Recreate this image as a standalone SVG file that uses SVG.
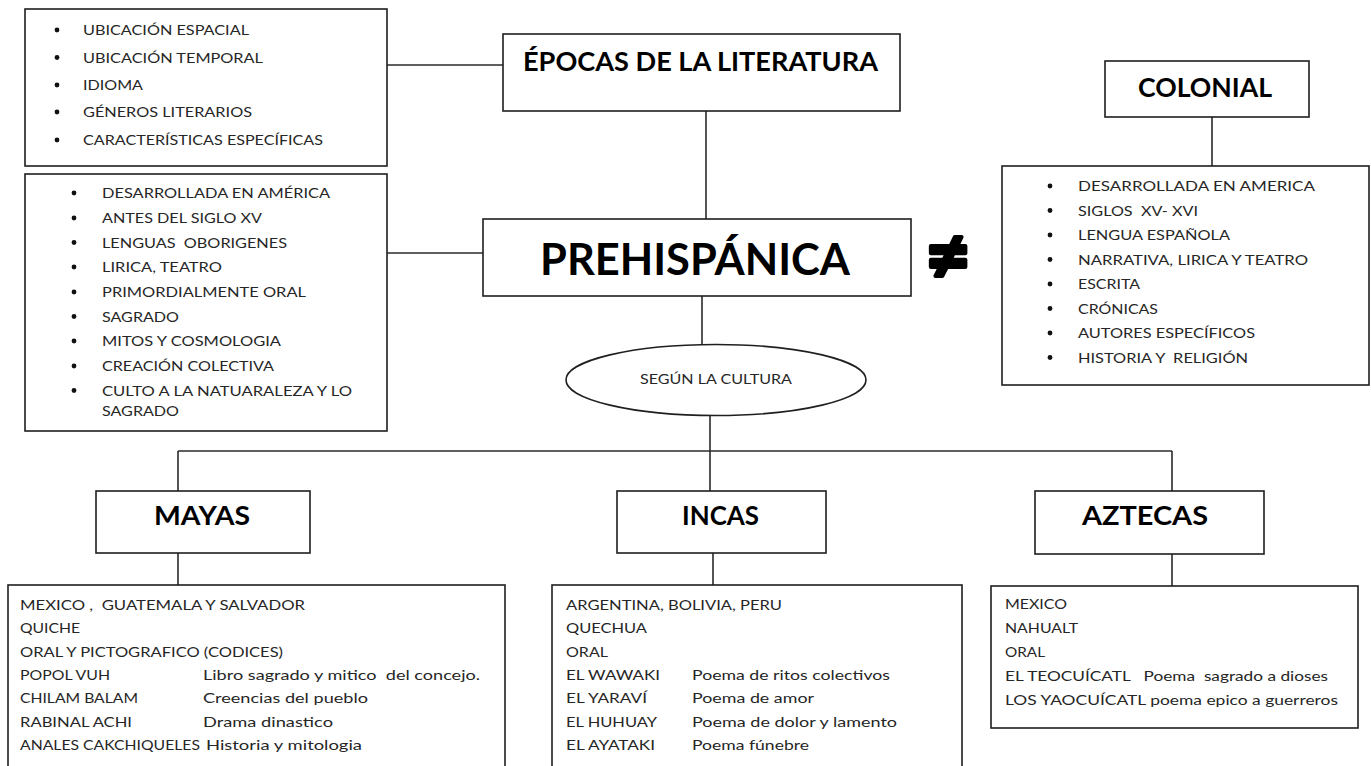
<svg xmlns="http://www.w3.org/2000/svg" width="1371" height="766" viewBox="0 0 1371 766" xml:space="preserve">
<style>
.box{fill:#fff;stroke:#1f1f1f;stroke-width:1.6}
.ln{stroke:#2a2a2a;stroke-width:1.6;fill:none}
.t{font-family:Lato,"Open Sans","Liberation Sans",sans-serif;font-size:13.5px;fill:#262626;white-space:pre}
.h{font-family:Lato,"Open Sans","Liberation Sans",sans-serif;font-weight:bold;fill:#000;white-space:pre}
.b{fill:#111}
</style>
<rect width="1371" height="766" fill="#fff"/>
<g id="connectors">
<line class="ln" x1="387" y1="65" x2="503" y2="65"/>
<line class="ln" x1="706" y1="111" x2="706" y2="219"/>
<line class="ln" x1="387" y1="253" x2="483" y2="253"/>
<line class="ln" x1="702" y1="296" x2="702" y2="344"/>
<line class="ln" x1="710" y1="415" x2="710" y2="491"/>
<line class="ln" x1="178" y1="451" x2="1172" y2="451"/>
<line class="ln" x1="178" y1="451" x2="178" y2="491"/>
<line class="ln" x1="1172" y1="451" x2="1172" y2="491"/>
<line class="ln" x1="178" y1="553" x2="178" y2="585"/>
<line class="ln" x1="713" y1="553" x2="713" y2="585"/>
<line class="ln" x1="1172" y1="554" x2="1172" y2="586"/>
<line class="ln" x1="1212" y1="117" x2="1212" y2="166"/>
</g>
<g id="aspectos">
<rect class="box" x="25" y="9" width="362" height="157"/>
<circle class="b" cx="57" cy="30" r="2.4"/><text class="t" x="83" y="35" textLength="166" lengthAdjust="spacingAndGlyphs">UBICACIÓN ESPACIAL</text>
<circle class="b" cx="57" cy="57.5" r="2.4"/><text class="t" x="83" y="62.5" textLength="180" lengthAdjust="spacingAndGlyphs">UBICACIÓN TEMPORAL</text>
<circle class="b" cx="57" cy="85" r="2.4"/><text class="t" x="83" y="90" textLength="60" lengthAdjust="spacingAndGlyphs">IDIOMA</text>
<circle class="b" cx="57" cy="112" r="2.4"/><text class="t" x="83" y="117" textLength="169" lengthAdjust="spacingAndGlyphs">GÉNEROS LITERARIOS</text>
<circle class="b" cx="57" cy="140" r="2.4"/><text class="t" x="83" y="145" textLength="240" lengthAdjust="spacingAndGlyphs">CARACTERÍSTICAS ESPECÍFICAS</text>
</g>
<g id="epocas">
<rect class="box" x="503" y="34" width="397" height="77"/>
<text class="h" x="523" y="71" font-size="26" textLength="355" lengthAdjust="spacingAndGlyphs">ÉPOCAS DE LA LITERATURA</text>
</g>
<g id="prehispanica-rasgos">
<rect class="box" x="25" y="174" width="362" height="257"/>
<circle class="b" cx="74" cy="193" r="2.4"/><text class="t" x="102" y="198" textLength="228" lengthAdjust="spacingAndGlyphs">DESARROLLADA EN AMÉRICA</text>
<circle class="b" cx="74" cy="218" r="2.4"/><text class="t" x="102" y="223" textLength="160" lengthAdjust="spacingAndGlyphs">ANTES DEL SIGLO XV</text>
<circle class="b" cx="74" cy="242.5" r="2.4"/><text class="t" x="102" y="247.5" textLength="185" lengthAdjust="spacingAndGlyphs">LENGUAS  OBORIGENES</text>
<circle class="b" cx="74" cy="267" r="2.4"/><text class="t" x="102" y="272" textLength="120" lengthAdjust="spacingAndGlyphs">LIRICA, TEATRO</text>
<circle class="b" cx="74" cy="292" r="2.4"/><text class="t" x="102" y="297" textLength="204" lengthAdjust="spacingAndGlyphs">PRIMORDIALMENTE ORAL</text>
<circle class="b" cx="74" cy="316.5" r="2.4"/><text class="t" x="102" y="321.5" textLength="77" lengthAdjust="spacingAndGlyphs">SAGRADO</text>
<circle class="b" cx="74" cy="341" r="2.4"/><text class="t" x="102" y="346" textLength="179" lengthAdjust="spacingAndGlyphs">MITOS Y COSMOLOGIA</text>
<circle class="b" cx="74" cy="366" r="2.4"/><text class="t" x="102" y="371" textLength="172" lengthAdjust="spacingAndGlyphs">CREACIÓN COLECTIVA</text>
<circle class="b" cx="74" cy="390.5" r="2.4"/><text class="t" x="102" y="395.5" textLength="250" lengthAdjust="spacingAndGlyphs">CULTO A LA NATUARALEZA Y LO</text>
<text class="t" x="102" y="416" textLength="77" lengthAdjust="spacingAndGlyphs">SAGRADO</text>
</g>
<g id="prehispanica">
<rect class="box" x="483" y="219" width="428" height="77"/>
<text class="h" x="540" y="275" font-size="44" textLength="310" lengthAdjust="spacingAndGlyphs">PREHISPÁNICA</text>
</g>
<g id="distinto">
<text class="h" x="948" y="283" font-size="78" text-anchor="middle" font-family="'DejaVu Sans',sans-serif" stroke="#000" stroke-width="4" stroke-linejoin="round">≠</text>
</g>
<g id="colonial">
<rect class="box" x="1105" y="61" width="204" height="56"/>
<text class="h" x="1138" y="97" font-size="26" textLength="134" lengthAdjust="spacingAndGlyphs">COLONIAL</text>
</g>
<g id="colonial-rasgos">
<rect class="box" x="1002" y="166" width="367" height="219"/>
<circle class="b" cx="1050" cy="186" r="2.4"/><text class="t" x="1078" y="191" textLength="237" lengthAdjust="spacingAndGlyphs">DESARROLLADA EN AMERICA</text>
<circle class="b" cx="1050" cy="210.5" r="2.4"/><text class="t" x="1078" y="215.5" textLength="120" lengthAdjust="spacingAndGlyphs">SIGLOS  XV- XVI</text>
<circle class="b" cx="1050" cy="235" r="2.4"/><text class="t" x="1078" y="240" textLength="152" lengthAdjust="spacingAndGlyphs">LENGUA ESPAÑOLA</text>
<circle class="b" cx="1050" cy="259.5" r="2.4"/><text class="t" x="1078" y="264.5" textLength="230" lengthAdjust="spacingAndGlyphs">NARRATIVA, LIRICA Y TEATRO</text>
<circle class="b" cx="1050" cy="284" r="2.4"/><text class="t" x="1078" y="289" textLength="62" lengthAdjust="spacingAndGlyphs">ESCRITA</text>
<circle class="b" cx="1050" cy="308.5" r="2.4"/><text class="t" x="1078" y="313.5" textLength="80" lengthAdjust="spacingAndGlyphs">CRÓNICAS</text>
<circle class="b" cx="1050" cy="333" r="2.4"/><text class="t" x="1078" y="338" textLength="177" lengthAdjust="spacingAndGlyphs">AUTORES ESPECÍFICOS</text>
<circle class="b" cx="1050" cy="357.5" r="2.4"/><text class="t" x="1078" y="362.5" textLength="170" lengthAdjust="spacingAndGlyphs">HISTORIA Y  RELIGIÓN</text>
</g>
<g id="segun-cultura">
<ellipse class="box" cx="716" cy="380" rx="150" ry="35.5"/>
<text class="t" x="640" y="384" font-size="12.5" textLength="152" lengthAdjust="spacingAndGlyphs">SEGÚN LA CULTURA</text>
</g>
<g id="mayas">
<rect class="box" x="96" y="491" width="214" height="62"/>
<text class="h" x="154" y="525" font-size="27" textLength="96" lengthAdjust="spacingAndGlyphs">MAYAS</text>
</g>
<g id="incas">
<rect class="box" x="617" y="491" width="209" height="62"/>
<text class="h" x="682" y="525" font-size="27" textLength="77" lengthAdjust="spacingAndGlyphs">INCAS</text>
</g>
<g id="aztecas">
<rect class="box" x="1035" y="491" width="229" height="63"/>
<text class="h" x="1082" y="525" font-size="27" textLength="126" lengthAdjust="spacingAndGlyphs">AZTECAS</text>
</g>
<g id="mayas-detalle">
<rect class="box" x="8" y="585" width="497" height="200"/>
<text class="t" x="20" y="610" textLength="285" lengthAdjust="spacingAndGlyphs">MEXICO ,  GUATEMALA Y SALVADOR</text>
<text class="t" x="20" y="633" textLength="60" lengthAdjust="spacingAndGlyphs">QUICHE</text>
<text class="t" x="20" y="657" textLength="263" lengthAdjust="spacingAndGlyphs">ORAL Y PICTOGRAFICO (CODICES)</text>
<text class="t" x="20" y="680" textLength="90" lengthAdjust="spacingAndGlyphs">POPOL VUH</text>
<text class="t" x="203" y="680" textLength="277" lengthAdjust="spacingAndGlyphs">Libro sagrado y mitico  del concejo.</text>
<text class="t" x="20" y="703" textLength="118" lengthAdjust="spacingAndGlyphs">CHILAM BALAM</text>
<text class="t" x="203" y="703" textLength="165" lengthAdjust="spacingAndGlyphs">Creencias del pueblo</text>
<text class="t" x="20" y="727" textLength="112" lengthAdjust="spacingAndGlyphs">RABINAL ACHI</text>
<text class="t" x="203" y="727" textLength="130" lengthAdjust="spacingAndGlyphs">Drama dinastico</text>
<text class="t" x="20" y="750" textLength="180" lengthAdjust="spacingAndGlyphs">ANALES CAKCHIQUELES</text>
<text class="t" x="206" y="750" textLength="156" lengthAdjust="spacingAndGlyphs">Historia y mitologia</text>
</g>
<g id="incas-detalle">
<rect class="box" x="552" y="585" width="410" height="200"/>
<text class="t" x="566" y="610" textLength="216" lengthAdjust="spacingAndGlyphs">ARGENTINA, BOLIVIA, PERU</text>
<text class="t" x="566" y="633" textLength="81" lengthAdjust="spacingAndGlyphs">QUECHUA</text>
<text class="t" x="566" y="657" textLength="42" lengthAdjust="spacingAndGlyphs">ORAL</text>
<text class="t" x="566" y="680" textLength="94" lengthAdjust="spacingAndGlyphs">EL WAWAKI</text>
<text class="t" x="692" y="680" textLength="198" lengthAdjust="spacingAndGlyphs">Poema de ritos colectivos</text>
<text class="t" x="566" y="703" textLength="81" lengthAdjust="spacingAndGlyphs">EL YARAVÍ</text>
<text class="t" x="692" y="703" textLength="122" lengthAdjust="spacingAndGlyphs">Poema de amor</text>
<text class="t" x="566" y="727" textLength="91" lengthAdjust="spacingAndGlyphs">EL HUHUAY</text>
<text class="t" x="692" y="727" textLength="205" lengthAdjust="spacingAndGlyphs">Poema de dolor y lamento</text>
<text class="t" x="566" y="750" textLength="89" lengthAdjust="spacingAndGlyphs">EL AYATAKI</text>
<text class="t" x="692" y="750" textLength="117" lengthAdjust="spacingAndGlyphs">Poema fúnebre</text>
</g>
<g id="aztecas-detalle">
<rect class="box" x="991" y="586" width="367" height="142"/>
<text class="t" x="1005" y="609" textLength="62" lengthAdjust="spacingAndGlyphs">MEXICO</text>
<text class="t" x="1005" y="633" textLength="73" lengthAdjust="spacingAndGlyphs">NAHUALT</text>
<text class="t" x="1005" y="657" textLength="40" lengthAdjust="spacingAndGlyphs">ORAL</text>
<text class="t" x="1005" y="681" textLength="323" lengthAdjust="spacingAndGlyphs">EL TEOCUÍCATL   Poema  sagrado a dioses</text>
<text class="t" x="1005" y="705" textLength="333" lengthAdjust="spacingAndGlyphs">LOS YAOCUÍCATL poema epico a guerreros</text>
</g>
</svg>
